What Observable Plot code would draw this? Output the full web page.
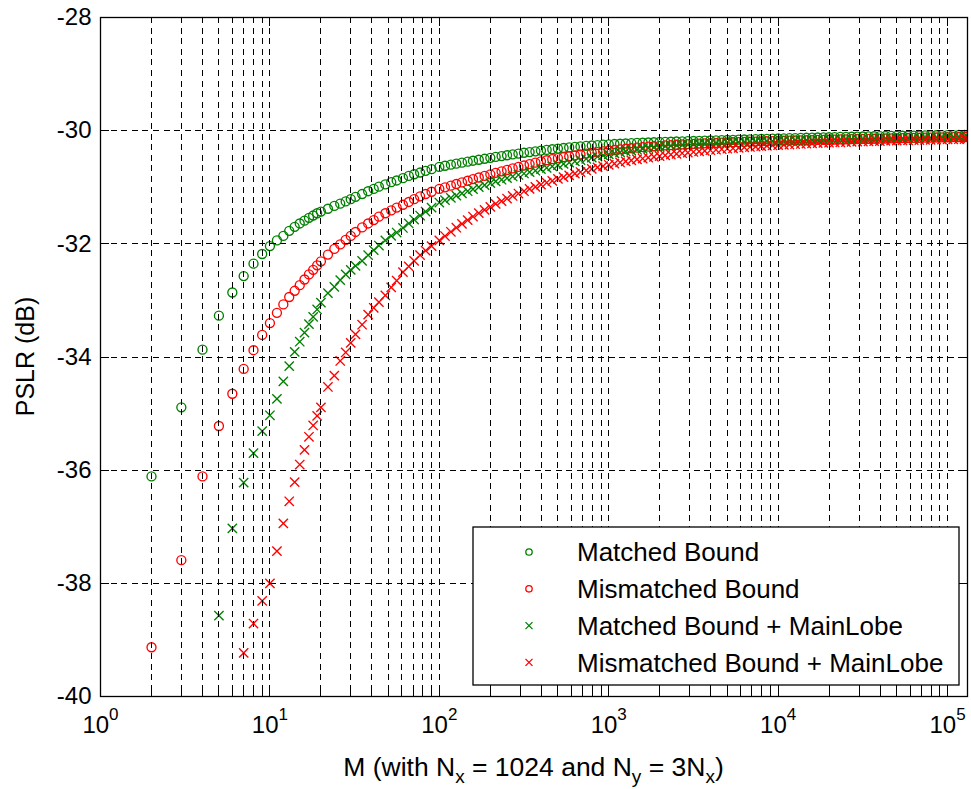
<!DOCTYPE html>
<html>
<head>
<meta charset="utf-8">
<script src="https://cdn.jsdelivr.net/npm/d3@7"></script>
<script src="https://cdn.jsdelivr.net/npm/@observablehq/plot@0.6"></script>
<style>
  html, body { margin: 0; padding: 0; background: #fff; }
  svg text { white-space: pre; }
</style>
</head>
<body>
<div id="chart"></div>
<script>
// ---- Data ----
const M = [2,3,4,5,6,7,8,9,10,11,12,13,14,15,16,17,18,19,20,
  22,24,26,28,30,32,35,38,41,44,48,52,56,61,66,71,77,83,90,
  100,108,117,126,136,147,158,171,185,200,215,233,251,271,293,316,341,369,398,430,464,501,541,584,631,681,736,794,858,926,
  1000,1080,1166,1259,1359,1468,1585,1711,1848,1995,2154,2326,2512,2712,2929,3162,3415,3687,3981,4299,4642,5012,5412,5843,6310,6813,7356,7943,8577,9261,
  10000,10800,11660,12589,13594,14678,15849,17113,18478,19953,21544,23263,25119,27123,29286,31623,34145,36869,39811,42987,46416,50119,54117,58434,63096,68129,73564,79433,85770,92611,
  100000,107980,116590,125890,131072];

const matchedBound = [-36.11,-34.89,-33.87,-33.27,-32.86,-32.57,-32.35,-32.18,-32.04,-31.94,-31.86,-31.77,-31.70,-31.64,-31.59,-31.54,-31.50,-31.46,-31.43,
  -31.38,-31.33,-31.29,-31.25,-31.21,-31.17,-31.12,-31.07,-31.03,-30.99,-30.95,-30.91,-30.88,-30.84,-30.80,-30.77,-30.74,-30.71,-30.68,
  -30.640,-30.620,-30.601,-30.583,-30.565,-30.548,-30.531,-30.514,-30.497,-30.480,-30.464,-30.449,-30.434,-30.419,-30.405,-30.391,-30.378,-30.365,-30.352,-30.340,-30.328,-30.317,-30.306,-30.296,-30.287,-30.278,-30.270,-30.262,-30.255,-30.248,
  -30.242,-30.236,-30.231,-30.226,-30.221,-30.217,-30.213,-30.209,-30.205,-30.201,-30.198,-30.195,-30.192,-30.189,-30.186,-30.183,-30.180,-30.177,-30.174,-30.171,-30.168,-30.165,-30.162,-30.159,-30.156,-30.153,-30.150,-30.147,-30.144,-30.141,
  -30.138,-30.136,-30.133,-30.131,-30.128,-30.126,-30.123,-30.121,-30.118,-30.116,-30.113,-30.111,-30.109,-30.107,-30.105,-30.103,-30.101,-30.099,-30.097,-30.095,-30.093,-30.092,-30.090,-30.089,-30.087,-30.086,-30.084,-30.083,-30.081,-30.080,
  -30.079,-30.078,-30.077,-30.076,-30.075];

const mismatchedBound = [-39.13,-37.59,-36.11,-35.22,-34.65,-34.21,-33.88,-33.61,-33.40,-33.22,-33.07,-32.94,-32.83,-32.73,-32.63,-32.54,-32.46,-32.38,-32.31,
  -32.19,-32.09,-32.01,-31.93,-31.86,-31.79,-31.71,-31.64,-31.58,-31.52,-31.46,-31.41,-31.36,-31.31,-31.26,-31.21,-31.16,-31.12,-31.08,
  -31.030,-31.001,-30.972,-30.943,-30.914,-30.885,-30.856,-30.828,-30.800,-30.772,-30.745,-30.719,-30.693,-30.667,-30.641,-30.616,-30.591,-30.566,-30.542,-30.522,-30.503,-30.485,-30.468,-30.452,-30.436,-30.421,-30.406,-30.392,-30.379,-30.366,
  -30.354,-30.342,-30.331,-30.320,-30.310,-30.300,-30.291,-30.283,-30.275,-30.268,-30.261,-30.255,-30.249,-30.243,-30.238,-30.233,-30.228,-30.224,-30.220,-30.216,-30.212,-30.208,-30.205,-30.202,-30.199,-30.196,-30.193,-30.190,-30.187,-30.185,
  -30.182,-30.179,-30.177,-30.174,-30.172,-30.169,-30.167,-30.164,-30.162,-30.160,-30.157,-30.155,-30.153,-30.150,-30.148,-30.146,-30.144,-30.142,-30.140,-30.138,-30.136,-30.134,-30.132,-30.130,-30.128,-30.126,-30.124,-30.122,-30.120,-30.118,
  -30.116,-30.114,-30.112,-30.110,-30.109];

const matchedMainLobe = [null,null,null,-38.57,-37.03,-36.22,-35.70,-35.31,-35.03,-34.74,-34.43,-34.16,-33.91,-33.73,-33.57,-33.42,-33.29,-33.16,-33.04,
  -32.87,-32.76,-32.64,-32.54,-32.46,-32.39,-32.30,-32.20,-32.11,-32.03,-31.94,-31.86,-31.80,-31.72,-31.64,-31.57,-31.50,-31.43,-31.36,
  -31.270,-31.228,-31.187,-31.147,-31.108,-31.070,-31.033,-30.997,-30.962,-30.928,-30.897,-30.867,-30.838,-30.810,-30.783,-30.757,-30.732,-30.708,-30.680,-30.656,-30.632,-30.609,-30.586,-30.563,-30.541,-30.519,-30.497,-30.476,-30.457,-30.438,
  -30.420,-30.402,-30.385,-30.368,-30.352,-30.337,-30.323,-30.310,-30.298,-30.287,-30.277,-30.268,-30.260,-30.253,-30.246,-30.240,-30.234,-30.229,-30.224,-30.219,-30.215,-30.211,-30.207,-30.203,-30.199,-30.196,-30.193,-30.190,-30.187,-30.184,
  -30.181,-30.178,-30.176,-30.173,-30.171,-30.168,-30.166,-30.163,-30.161,-30.159,-30.156,-30.154,-30.152,-30.149,-30.147,-30.145,-30.143,-30.141,-30.139,-30.137,-30.135,-30.133,-30.131,-30.129,-30.127,-30.125,-30.123,-30.121,-30.119,-30.117,
  -30.115,-30.113,-30.111,-30.109,-30.108];

const mismatchedMainLobe = [null,null,null,null,null,-39.23,-38.71,-38.31,-38.00,-37.43,-36.94,-36.55,-36.21,-35.90,-35.64,-35.41,-35.21,-35.04,-34.89,
  -34.53,-34.33,-34.07,-33.92,-33.75,-33.60,-33.43,-33.25,-33.13,-33.03,-32.91,-32.77,-32.65,-32.50,-32.40,-32.30,-32.20,-32.12,-32.04,
  -31.940,-31.862,-31.787,-31.715,-31.646,-31.580,-31.517,-31.457,-31.400,-31.346,-31.295,-31.246,-31.199,-31.154,-31.111,-31.070,-31.030,-30.992,-30.955,-30.920,-30.886,-30.853,-30.821,-30.790,-30.760,-30.731,-30.703,-30.676,-30.650,-30.626,
  -30.603,-30.582,-30.562,-30.543,-30.525,-30.508,-30.492,-30.477,-30.463,-30.449,-30.436,-30.423,-30.411,-30.399,-30.388,-30.377,-30.366,-30.356,-30.346,-30.337,-30.328,-30.319,-30.311,-30.303,-30.295,-30.288,-30.281,-30.274,-30.268,-30.262,
  -30.256,-30.250,-30.245,-30.240,-30.235,-30.230,-30.225,-30.221,-30.217,-30.213,-30.209,-30.205,-30.201,-30.198,-30.195,-30.192,-30.189,-30.186,-30.183,-30.180,-30.177,-30.175,-30.172,-30.170,-30.167,-30.165,-30.163,-30.161,-30.159,-30.157,
  -30.155,-30.153,-30.151,-30.149,-30.148];

const seriesNames = ["Matched Bound", "Mismatched Bound", "Matched Bound + MainLobe", "Mismatched Bound + MainLobe"];
const seriesValues = [matchedBound, mismatchedBound, matchedMainLobe, mismatchedMainLobe];
const seriesColors = ["#008000", "#ff0000", "#008000", "#ff0000"];
const seriesSymbols = ["circle", "circle", "times", "times"];

const xMajorTicks = [1, 10, 100, 1000, 10000, 100000];
const xMinorTicks = [2,3,4,5,6,7,8,9,20,30,40,50,60,70,80,90,200,300,400,500,600,700,800,900,
  2000,3000,4000,5000,6000,7000,8000,9000,20000,30000,40000,50000,60000,70000,80000,90000];
const yTicks = [-40, -38, -36, -34, -32, -30, -28];
const xLabelParts = [["M (with N", 0], ["x", 1], [" = 1024 and N", 0], ["y", 1], [" = 3N", 0], ["x", 1], [")", 0]];
const yLabel = "PSLR (dB)";

// ---- Layout ----
const W = 971, H = 789;
const mL = 100, mR = 4, mT = 17, mB = 93;
const plotW = W - mL - mR, plotH = H - mT - mB;
const majorLen = 9, minorLen = 5;
const FONT = "'Liberation Sans', Arial, Helvetica, sans-serif";

const dotMarks = seriesValues.map((vals, i) =>
  Plot.dot(M.map((m, j) => ({M: m, v: vals[j]})).filter(d => d.v != null), {
    x: "M", y: "v", r: seriesSymbols[i] === "circle" ? 4.5 : 4.3, symbol: seriesSymbols[i],
    stroke: seriesColors[i], fill: "none", strokeWidth: 1.35, clip: true
  })
);

const xGridAll = xMajorTicks.slice(1).concat(xMinorTicks);
const dash = "6,4.6";
const crisp = {shapeRendering: "crispEdges"};

const chart = Plot.plot({
  width: W, height: H,
  marginLeft: mL, marginRight: mR, marginTop: mT, marginBottom: mB,
  style: {fontFamily: FONT, background: "white", color: "black", overflow: "visible"},
  x: {type: "log", domain: [1, 131072], label: null},
  y: {domain: [-40, -28], label: null},
  marks: [
    ...dotMarks,
    Plot.gridX(xGridAll, {stroke: "black", strokeOpacity: 1, strokeWidth: 1, strokeDasharray: dash, ...crisp}),
    Plot.gridY(yTicks.slice(1, -1), {stroke: "black", strokeOpacity: 1, strokeWidth: 1, strokeDasharray: dash, ...crisp}),
    Plot.frame({stroke: "black", strokeWidth: 1.3}),
    // inward ticks (bottom/top/left/right)
    Plot.tickX(xMajorTicks, {x: d => d, stroke: "black", insetTop: plotH - majorLen, ...crisp}),
    Plot.tickX(xMajorTicks, {x: d => d, stroke: "black", insetBottom: plotH - majorLen, ...crisp}),
    Plot.tickX(xMinorTicks, {x: d => d, stroke: "black", insetTop: plotH - minorLen, ...crisp}),
    Plot.tickX(xMinorTicks, {x: d => d, stroke: "black", insetBottom: plotH - minorLen, ...crisp}),
    Plot.tickY(yTicks, {y: d => d, stroke: "black", insetRight: plotW - majorLen, ...crisp}),
    Plot.tickY(yTicks, {y: d => d, stroke: "black", insetLeft: plotW - majorLen, ...crisp}),
    Plot.axisX(xMajorTicks, {anchor: "bottom", tickSize: 0, tickPadding: 19, fontSize: 24, label: null,
      tickFormat: d => "10^" + Math.round(Math.log10(d))}),
    Plot.axisY(yTicks, {anchor: "left", tickSize: 0, tickPadding: 9, fontSize: 24, label: null,
      tickFormat: d => String(d)})
  ]
});

document.getElementById("chart").appendChild(chart);
const svgEl = chart.tagName.toLowerCase() === "svg" ? chart : chart.querySelector("svg");
const svg = d3.select(svgEl);

// superscripts for the log tick labels
svg.selectAll('g[aria-label="x-axis tick label"] text').each(function() {
  const t = d3.select(this);
  const s = t.text();
  const [base, exp] = s.split("^");
  t.text(null);
  t.append("tspan").text(base);
  t.append("tspan").attr("dy", -13).attr("font-size", 17).text(exp);
});

// x axis label with subscripts
const xl = svg.append("text")
  .attr("x", mL + plotW / 2).attr("y", 776)
  .attr("text-anchor", "middle").attr("font-family", FONT).attr("font-size", 26.5).attr("fill", "black");
let shift = 0;
xLabelParts.forEach(([txt, sub]) => {
  const target = sub ? 7 : 0;
  const ts = xl.append("tspan").attr("dy", target - shift).text(txt);
  if (sub) ts.attr("font-size", 19);
  shift = target;
});

// y axis label
svg.append("text")
  .attr("transform", `translate(34,${mT + plotH / 2}) rotate(-90)`)
  .attr("text-anchor", "middle").attr("font-family", FONT).attr("font-size", 25).attr("fill", "black")
  .text(yLabel);

// legend box
const lg = svg.append("g").attr("font-family", FONT).attr("font-size", 26).attr("text-anchor", "start");
lg.append("rect").attr("x", 473).attr("y", 527).attr("width", 486).attr("height", 158)
  .attr("fill", "white").attr("stroke", "black").attr("stroke-width", 1.3);
seriesNames.forEach((name, i) => {
  const cy = 552 + i * 36.8;
  if (seriesSymbols[i] === "circle") {
    lg.append("circle").attr("cx", 529).attr("cy", cy).attr("r", 3.2)
      .attr("fill", "none").attr("stroke", seriesColors[i]).attr("stroke-width", 1.3);
  } else {
    lg.append("path").attr("d", `M${525.5},${cy - 3.5}L${532.5},${cy + 3.5}M${525.5},${cy + 3.5}L${532.5},${cy - 3.5}`)
      .attr("fill", "none").attr("stroke", seriesColors[i]).attr("stroke-width", 1.3);
  }
  lg.append("text").attr("x", 577).attr("y", cy).attr("dy", "0.36em").attr("text-anchor", "start")
    .attr("fill", "black").text(name);
});
</script>
</body>
</html>
